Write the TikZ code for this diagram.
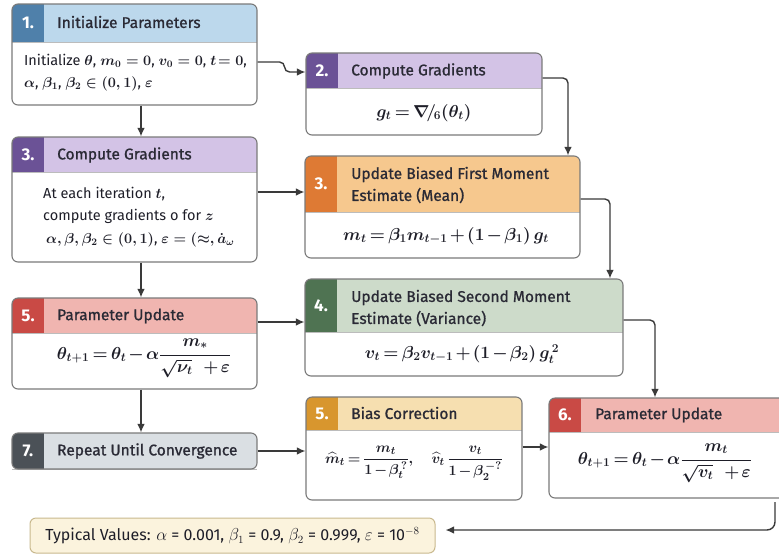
\documentclass[tikz,border=0pt]{standalone}
\usepackage{amsmath,amssymb}
\usepackage{fontspec}
\setmainfont{Fira Sans}
\newfontfamily\titlefont{Fira Sans}[FakeBold=1.0]
\usetikzlibrary{arrows.meta,calc,fit}
\definecolor{headA}{HTML}{BCD8EC}\definecolor{tabA}{HTML}{4F80AA}
\definecolor{headB}{HTML}{D3C3E6}\definecolor{tabB}{HTML}{6B5296}
\definecolor{headC}{HTML}{F6C88E}\definecolor{tabC}{HTML}{DE7A34}
\definecolor{headD}{HTML}{CDDBCA}\definecolor{tabD}{HTML}{4F7352}
\definecolor{headE}{HTML}{F0B5B0}\definecolor{tabE}{HTML}{C94A45}
\definecolor{headF}{HTML}{DADFE3}\definecolor{tabF}{HTML}{4B5157}
\definecolor{headG}{HTML}{F6DFB0}\definecolor{tabG}{HTML}{D8962E}
\definecolor{typfill}{HTML}{FBF3DD}\definecolor{typborder}{HTML}{C9B98E}
\definecolor{bordercol}{HTML}{7A7A7A}
\definecolor{arrcol}{HTML}{3A3A3A}
\definecolor{titlecol}{HTML}{2A2A35}
\definecolor{bodycol}{HTML}{1E1E28}
\newcommand\stepbox[9]{%
  \begin{scope}
    \clip[rounded corners=6pt] (#2,#3) rectangle (#4,#5);
    \fill[white] (#2,#3) rectangle (#4,#5);
    \fill[#8] (#2,#3) rectangle (#4,#6);
    \fill[#7] (#2,#3) rectangle (#2+32,#6);
  \end{scope}
  \draw[bordercol!50, line width=0.6pt] (#2,#6) -- (#4,#6);
  \node[bx, fit={(#2,#3)(#4,#5)}] (#1) {};
  \node[numtxt] at (#2+16,{(#3+#6)/2}) {#9};
}
\newcommand\tightmath{\medmuskip=2mu plus 1mu\thickmuskip=3mu plus 2mu}
\begin{document}
\begin{tikzpicture}[x=1pt,y=-1pt,
  bx/.style={draw=bordercol, line width=1.1pt, rounded corners=6pt, inner sep=0pt},
  arr/.style={-{Latex[length=8.5pt,width=7.5pt]}, line width=1.4pt, draw=arrcol, rounded corners=5pt},
  numtxt/.style={text=white, font=\fontsize{17}{18}\selectfont\bfseries},
  ttl/.style={anchor=west, font=\titlefont\fontsize{15.5}{22}\selectfont, text=titlecol, align=left, inner sep=0pt},
  body/.style={font=\fontsize{14.5}{22.5}\selectfont\boldmath, text=bodycol, inner sep=0pt},
  fml/.style={font=\fontsize{16.5}{20}\selectfont\boldmath\tightmath, text=bodycol, inner sep=0pt},
  fmlsmall/.style={font=\fontsize{15.5}{19}\selectfont\boldmath\tightmath, text=bodycol, inner sep=0pt},
]
\useasboundingbox (0,0) rectangle (779,558);
\clip (0,0) rectangle (779,558);
\fill[white] (0,0) rectangle (779,558);

% left column
\stepbox{b1}{12}{4}{257}{105}{42}{tabA}{headA}{1.}
\node[ttl] (h1) at (57,22) {Initialize Parameters};
\node[body, anchor=west, align=left] (t1) at (24,72.5) {Initialize $\theta$, $m_0 = 0$, $v_0 = 0$, $t\!=0$,\\$\alpha$, $\beta_1$, $\beta_2 \in (0,1)$, $\varepsilon$};

\stepbox{b3}{12}{137}{257}{262}{172}{tabB}{headB}{3.}
\node[ttl] (h3) at (57,155) {Compute Gradients};
\node[body, anchor=west, align=left] (t3) at (43,217) {At each iteration $t$,\\compute gradients o for $z$\\\hspace{3pt}$\alpha, \beta, \beta_2 \in (0,1)$, $\varepsilon = (\approx, \dot{a}_\omega$};

\stepbox{b5}{12}{298}{257}{389}{333}{tabE}{headE}{5.}
\node[ttl] (h5) at (57,316) {Parameter Update};
\node[fml] (t5) at (144,358) {$\theta_{t+1} = \theta_t - \alpha\dfrac{m_*}{\sqrt{\nu_t}\ \ +\varepsilon}$};

\stepbox{b7}{12}{433}{257}{469}{469}{tabF}{headF}{7.}
\node[ttl] (h7) at (57,451) {Repeat Until Convergence};

% right column
\stepbox{b2}{306}{53}{542}{135}{88}{tabB}{headB}{2.}
\node[ttl] (h2) at (351,71) {Compute Gradients};
\node[fml] (t2) at (424,113) {$g_t = \nabla\!/_{\!6}(\theta_t)$};

\stepbox{b3r}{305}{156}{580}{258}{212}{tabC}{headC}{3.}
\node[ttl] (h3r) at (351,185) {Update Biased First Moment\\Estimate (Mean)};
\node[fml] (t3r) at (446,236) {$m_t = \beta_1 m_{t-1} + (1-\beta_1)\, g_t$};

\stepbox{b4}{305}{279}{623}{376}{332}{tabD}{headD}{4.}
\node[ttl] (h4) at (351,308) {Update Biased Second Moment\\Estimate (Variance)};
\node[fml] (t4) at (462,354) {$v_t = \beta_2 v_{t-1} + (1-\beta_2)\, g_t^{\,2}$};

\stepbox{b5b}{306}{397}{522}{500}{430}{tabG}{headG}{5.}
\node[ttl] (h5b) at (351,413) {Bias Correction};
\node[fmlsmall] (t5b) at (414,463) {$\widehat{m}_t = \dfrac{m_t}{1-\beta_t^{\,?}},\quad \widehat{v}_t\,\dfrac{v_t}{1-\beta_2^{\,-?}}$};

\stepbox{b6}{549}{398}{795}{498}{432}{tabE}{headE}{6.}
\node[ttl] (h6) at (595,415) {Parameter Update};
\node[fml] (t6) at (665,463) {$\theta_{t+1} = \theta_t - \alpha\dfrac{m_t}{\sqrt{v_t}\ \ +\varepsilon}$};

% typical values
\node[draw=typborder, fill=typfill, line width=1pt, rounded corners=6pt, inner sep=0pt, fit={(30,518)(435,553)}] (bt) {};
\node[font=\fontsize{16}{17}\selectfont, text=bodycol] (tt) at (bt.center) {Typical Values: $\alpha$ = 0.001, $\beta_1$ = 0.9, $\beta_2$ = 0.999, $\varepsilon$ = 10$^{-8}$};

% connectors
\draw[arr] ([xshift=6.5pt]b1.south) -- ([xshift=6.5pt]b3.north);
\draw[arr] ([xshift=6.5pt]b3.south) -- ([xshift=6.5pt]b5.north);
\draw[arr] ([xshift=6.5pt]b5.south) -- ([xshift=6.5pt]b7.north);
\draw[arr] ([yshift=-7.5pt]b1.east) -- ++(27,0) |- ([yshift=22pt]b2.west);
\draw[arr] ([yshift=16pt]b2.east) -| ([xshift=125.5pt]b3r.north);
\draw[arr] ([yshift=7.5pt]b3.east) -- ([yshift=7.5pt]b3.east -| b3r.west);
\draw[arr] ([yshift=8pt]b3r.east) -| ([xshift=146pt]b4.north);
\draw[arr] ([yshift=21.5pt]b5.east) -- ([yshift=21.5pt]b5.east -| b4.west);
\draw[arr] ([yshift=7.5pt]b4.east) -| ([xshift=-17pt]b6.north);
\draw[arr] (b7.east) -- (b7.east -| b5b.west);
\draw[arr] ([yshift=1.5pt]b5b.east) -- ([yshift=1.5pt]b5b.east -| b6.west);
\coordinate (re) at (775,502);
\draw[arr, rounded corners=8pt] (re) |- ([xshift=10pt,yshift=5.5pt]bt.east);
\end{tikzpicture}
\end{document}
